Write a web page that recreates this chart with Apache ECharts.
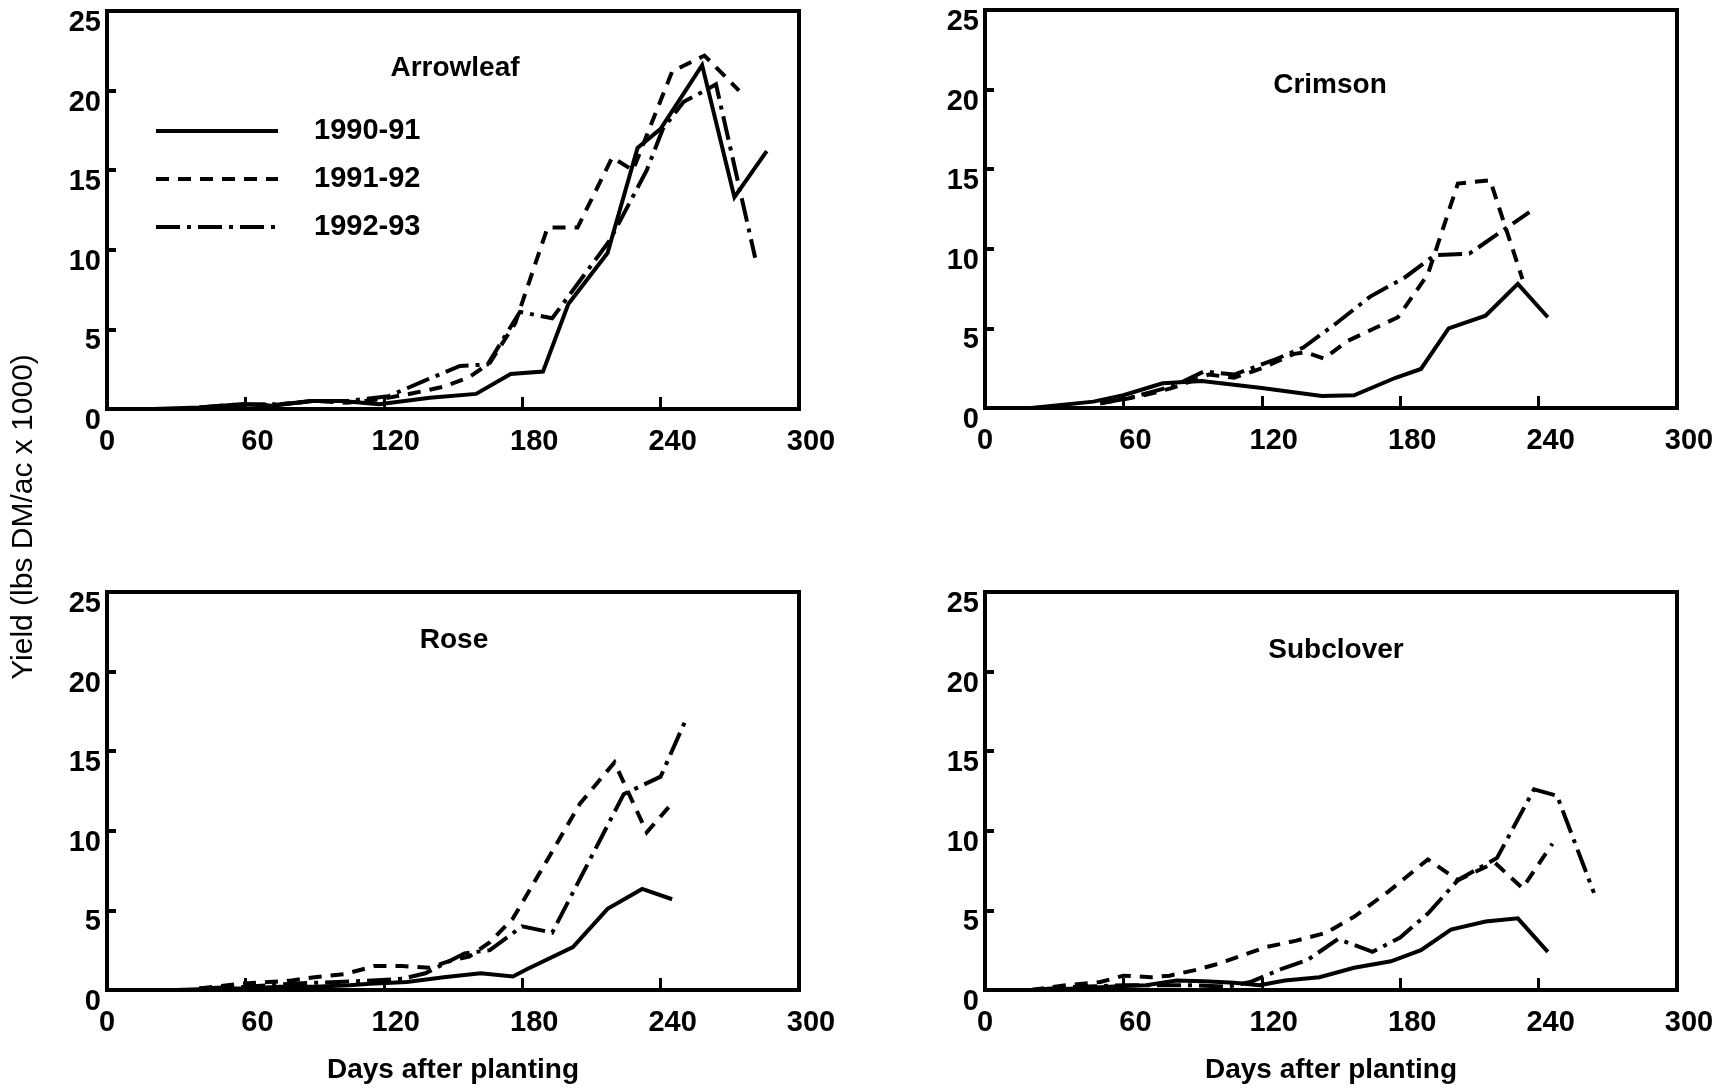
<!DOCTYPE html>
<html><head><meta charset="utf-8">
<script src="https://cdn.jsdelivr.net/npm/echarts@6/dist/echarts.min.js"></script>
<style>html,body{margin:0;padding:0;background:#fff}#chart{width:1736px;height:1089px}</style>
</head><body><div id="chart"></div>
<script>
// ---------- data ----------
const seasonNames = ['1990-91', '1991-92', '1992-93'];
const panelTitles = ['Arrowleaf', 'Crimson', 'Rose', 'Subclover'];
const xTickValues = [0, 60, 120, 180, 240, 300];
const yTickValues = [0, 5, 10, 15, 20, 25];
const yAxisTitle = 'Yield (lbs DM/ac x 1000)';
const xAxisTitle = 'Days after planting';

// Arrowleaf
const arrowleaf9091Days = [20, 40, 58, 72, 88, 102, 118, 140, 160, 175, 189, 200, 217, 230, 240, 258, 272, 286];
const arrowleaf9091Yield = [0, 0.1, 0.3, 0.2, 0.5, 0.5, 0.3, 0.7, 0.95, 2.2, 2.35, 6.6, 9.8, 16.4, 17.6, 21.6, 13.3, 16.2];
const arrowleaf9192Days = [45, 60, 75, 90, 104, 118, 133, 146, 157, 166, 177, 191, 204, 219, 228, 245, 259, 274];
const arrowleaf9192Yield = [0.1, 0.2, 0.3, 0.5, 0.4, 0.6, 1.0, 1.4, 2.0, 2.9, 5.4, 11.4, 11.4, 15.8, 15.0, 21.2, 22.2, 20.0];
const arrowleaf9293Days = [40, 58, 75, 90, 104, 122, 138, 153, 165, 179, 193, 218, 234, 241, 250, 258, 264, 281];
const arrowleaf9293Yield = [0.1, 0.3, 0.3, 0.5, 0.5, 0.8, 1.8, 2.7, 2.8, 6.1, 5.7, 10.6, 15.0, 17.6, 19.3, 19.9, 20.4, 9.5];

// Crimson
const crimson9091Days = [20, 47, 60, 77, 94, 120, 146, 160, 178, 189, 201, 217, 231, 244];
const crimson9091Yield = [0, 0.4, 0.8, 1.55, 1.7, 1.25, 0.75, 0.8, 1.9, 2.45, 5.0, 5.8, 7.8, 5.7];
const crimson9192Days = [50, 62, 72, 82, 97, 108, 120, 134, 139, 147, 157, 179, 192, 205, 219, 233];
const crimson9192Yield = [0.3, 0.6, 0.9, 1.3, 2.1, 1.9, 2.5, 3.4, 3.5, 3.1, 4.2, 5.7, 8.4, 14.1, 14.3, 8.1];
const crimson9293Days = [50, 62, 72, 82, 95, 108, 125, 138, 153, 167, 182, 195, 210, 222, 236];
const crimson9293Yield = [0.3, 0.6, 1.0, 1.4, 2.3, 2.1, 3.0, 3.8, 5.4, 7.0, 8.2, 9.6, 9.7, 10.9, 12.3];

// Rose
const rose9091Days = [30, 50, 60, 75, 90, 105, 114, 130, 146, 162, 176, 182, 202, 217, 232, 245];
const rose9091Yield = [0, 0.1, 0.1, 0.2, 0.2, 0.3, 0.4, 0.5, 0.8, 1.05, 0.85, 1.3, 2.7, 5.1, 6.35, 5.7];
const rose9192Days = [40, 58, 70, 80, 90, 103, 116, 128, 140, 148, 157, 166, 176, 191, 205, 220, 234, 246];
const rose9192Yield = [0.1, 0.4, 0.5, 0.6, 0.8, 1.0, 1.5, 1.5, 1.4, 1.8, 2.1, 3.0, 4.5, 8.2, 11.7, 14.3, 9.9, 11.9];
const rose9293Days = [40, 60, 80, 100, 115, 128, 138, 155, 166, 180, 193, 224, 240, 251];
const rose9293Yield = [0.1, 0.2, 0.4, 0.5, 0.6, 0.7, 1.05, 2.3, 2.5, 4.0, 3.6, 12.3, 13.4, 17.0];

// Subclover
const subclover9091Days = [20, 40, 60, 70, 83, 95, 108, 119, 130, 145, 160, 176, 189, 202, 217, 231, 244];
const subclover9091Yield = [0, 0.1, 0.25, 0.3, 0.6, 0.55, 0.45, 0.3, 0.6, 0.8, 1.4, 1.8, 2.5, 3.8, 4.3, 4.5, 2.4];
const subclover9192Days = [20, 35, 50, 60, 72, 80, 91, 100, 110, 122, 135, 148, 160, 175, 192, 205, 221, 233, 246];
const subclover9192Yield = [0, 0.3, 0.5, 0.9, 0.8, 0.9, 1.25, 1.6, 2.1, 2.7, 3.1, 3.6, 4.6, 6.2, 8.2, 6.9, 8.0, 6.4, 9.2];
const subclover9293Days = [20, 40, 60, 75, 90, 105, 115, 129, 140, 153, 168, 180, 192, 205, 222, 238, 248, 264];
const subclover9293Yield = [0, 0.2, 0.3, 0.3, 0.3, 0.2, 0.5, 1.35, 1.9, 3.2, 2.4, 3.3, 4.8, 6.9, 8.3, 12.6, 12.2, 6.1];

// ---------- build ----------
const panels = [
  [[arrowleaf9091Days, arrowleaf9091Yield], [arrowleaf9192Days, arrowleaf9192Yield], [arrowleaf9293Days, arrowleaf9293Yield]],
  [[crimson9091Days, crimson9091Yield], [crimson9192Days, crimson9192Yield], [crimson9293Days, crimson9293Yield]],
  [[rose9091Days, rose9091Yield], [rose9192Days, rose9192Yield], [rose9293Days, rose9293Yield]],
  [[subclover9091Days, subclover9091Yield], [subclover9192Days, subclover9192Yield], [subclover9293Days, subclover9293Yield]]
];

const FONT = '"Liberation Sans", Arial, Helvetica, sans-serif';
const gridBoxes = [
  {left: 107, top: 11, width: 692, height: 398},
  {left: 985, top: 10, width: 692, height: 398},
  {left: 107, top: 592, width: 692, height: 398},
  {left: 985, top: 592, width: 692, height: 398}
];
const titlePos = [[455, 68], [1330, 85], [454, 640], [1336, 650]];
const lineTypes = ['solid', [13, 9], [24, 7, 4, 7]];

const grids = gridBoxes.map(g => Object.assign({show: true, borderColor: '#000', borderWidth: 4, backgroundColor: 'transparent'}, g));

const tickFont = {fontSize: 29, fontFamily: FONT, fontWeight: 'bold', color: '#000'};

const xAxes = gridBoxes.map((g, i) => ({
  type: 'value', gridIndex: i, min: xTickValues[0], max: xTickValues[xTickValues.length - 1],
  interval: xTickValues[1] - xTickValues[0],
  axisLine: {show: false},
  axisTick: {show: true, inside: true, length: 12, lineStyle: {color: '#000', width: 3}},
  splitLine: {show: false},
  axisLabel: Object.assign({
    margin: 18,
    formatter: v => v === 0 ? '{z|0}' : '{n|' + v + '}',
    rich: {z: Object.assign({}, tickFont),
           n: Object.assign({padding: [0, 0, 0, 24]}, tickFont)}
  }, tickFont),
  name: i >= 2 ? xAxisTitle : '',
  nameLocation: 'middle', nameGap: 66,
  nameTextStyle: {fontSize: 28, fontFamily: FONT, fontWeight: 'bold', color: '#000'}
}));

const yAxes = gridBoxes.map((g, i) => ({
  type: 'value', gridIndex: i, min: yTickValues[0], max: yTickValues[yTickValues.length - 1],
  interval: yTickValues[1] - yTickValues[0],
  axisLine: {show: false},
  axisTick: {show: true, inside: true, length: 9, lineStyle: {color: '#000', width: 4}},
  splitLine: {show: false},
  axisLabel: Object.assign({
    margin: 6,
    formatter: v => '{a|' + v + '}',
    rich: {a: Object.assign({padding: [24, 0, 0, 0]}, tickFont)}
  }, tickFont)
}));

const series = [];
panels.forEach((panel, i) => {
  panel.forEach((pair, j) => {
    const days = pair[0], vals = pair[1];
    series.push({
      type: 'line', name: seasonNames[j], xAxisIndex: i, yAxisIndex: i,
      data: days.map((d, k) => [d, vals[k]]),
      symbol: 'none', showSymbol: false, silent: true,
      lineStyle: {color: '#000', width: 4, type: lineTypes[j], cap: 'butt', join: 'miter'},
      itemStyle: {color: '#000'}
    });
  });
});

const graphics = panelTitles.map((t, i) => ({
  type: 'text', x: titlePos[i][0], y: titlePos[i][1],
  style: {text: t, fontSize: 28, fontFamily: FONT, fontWeight: 'bold', fill: '#000', textAlign: 'center', textVerticalAlign: 'middle'}
}));
graphics.push({
  type: 'text', x: 24, y: 517, rotation: Math.PI / 2,
  style: {text: yAxisTitle, fontSize: 30, fontFamily: FONT, fill: '#000', textAlign: 'center', textVerticalAlign: 'middle'}
});

const chart = echarts.init(document.getElementById('chart'), null, {renderer: 'canvas'});
chart.setOption({
  animation: false,
  backgroundColor: '#fff',
  grid: grids,
  xAxis: xAxes,
  yAxis: yAxes,
  legend: {
    data: seasonNames, orient: 'vertical', left: 149, top: 109,
    itemWidth: 122, itemHeight: 16, itemGap: 14,
    itemStyle: {opacity: 0},
    lineStyle: {width: 4, color: '#000'},
    textStyle: {fontSize: 29, fontFamily: FONT, fontWeight: 'bold', color: '#000', padding: [0, 0, 0, 31], lineHeight: 34}
  },
  graphic: graphics,
  series: series
});
</script></body></html>
